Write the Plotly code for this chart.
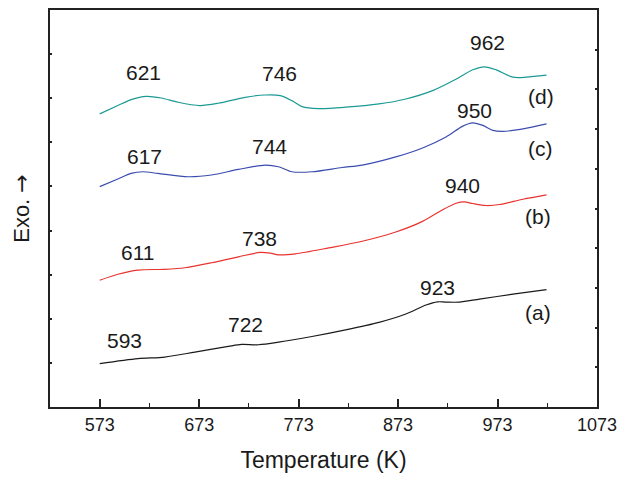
import plotly.graph_objects as go

# Temperature (K) and Exo. signal (arbitrary units, offset per curve)
T_a = [573, 611.4, 638.4, 668.7, 702.3, 715.7, 732.6, 752.8, 786.4, 820.2, 853.8, 880.8, 901, 912.7, 921.2, 934.6, 954.8, 988.5, 1022.2]
y_a = [0.983, 1.096, 1.132, 1.244, 1.373, 1.418, 1.411, 1.469, 1.598, 1.748, 1.919, 2.108, 2.311, 2.385, 2.378, 2.378, 2.446, 2.558, 2.662]

T_b = [573, 591.2, 611.4, 638.4, 658.6, 685.4, 712.4, 734.3, 744.4, 752.8, 769.7, 803.3, 837, 870.7, 897.6, 917.8, 931.3, 939.7, 948.1, 961.6, 975, 998.6, 1022.2]
y_b = [2.873, 3.009, 3.105, 3.121, 3.157, 3.270, 3.405, 3.504, 3.488, 3.450, 3.472, 3.607, 3.758, 3.967, 4.208, 4.471, 4.620, 4.651, 4.613, 4.568, 4.590, 4.710, 4.809]

T_c = [573, 591.2, 604.6, 616.4, 631.6, 661.9, 685.4, 712.4, 739.4, 752.8, 766.2, 786.4, 816.7, 837, 870.7, 897.6, 921.2, 938, 948.1, 958.2, 968.3, 978.4, 998.6, 1022.2]
y_c = [4.995, 5.169, 5.295, 5.333, 5.295, 5.220, 5.259, 5.385, 5.484, 5.446, 5.333, 5.333, 5.430, 5.484, 5.670, 5.873, 6.121, 6.368, 6.442, 6.384, 6.271, 6.249, 6.307, 6.420]

T_d = [573, 591.2, 604.6, 619.8, 634.9, 651.8, 673.7, 692.2, 719.2, 739.4, 754.5, 766.2, 776.4, 793.2, 820.2, 853.8, 880.8, 907.7, 931.3, 948.1, 959.9, 971.7, 988.5, 1002, 1022.2]
y_d = [6.645, 6.834, 6.969, 7.043, 7.005, 6.908, 6.834, 6.886, 7.021, 7.073, 7.059, 6.946, 6.811, 6.766, 6.796, 6.870, 6.983, 7.172, 7.432, 7.644, 7.712, 7.644, 7.477, 7.477, 7.522]

# Peak labels: text, x, y
peak_text = ["593", "722", "923", "611", "738", "940", "617", "744", "950", "621", "746", "962"]
peak_x = [598, 719.5, 912.5, 610.5, 733.5, 937.5, 618.5, 743.5, 950, 617.5, 753.5, 963]
peak_y = [1.51, 1.87, 2.72, 3.51, 3.83, 5.02, 5.67, 5.90, 6.73, 7.58, 7.56, 8.26]

curve_labels = ["(a)", "(b)", "(c)", "(d)"]
curve_label_x = [1013.5, 1013.5, 1016.5, 1016.5]
curve_label_y = [2.14, 4.32, 5.87, 7.04]

x_ticks = [573, 673, 773, 873, 973, 1073]

colors = ["#1a1a1a", "#e8332f", "#3a4cb0", "#1b9a94"]

fig = go.Figure()
for T, y, c in zip([T_a, T_b, T_c, T_d], [y_a, y_b, y_c, y_d], colors):
    fig.add_trace(go.Scatter(x=T, y=y, mode="lines", line=dict(color=c, width=1.2, shape="spline", smoothing=0.8),
                             showlegend=False, hoverinfo="skip"))

# invisible trace for right axis
fig.add_trace(go.Scatter(x=[573], y=[0], yaxis="y2", mode="markers", marker=dict(opacity=0), showlegend=False, hoverinfo="skip"))

font_family = "Liberation Sans, Arial, sans-serif"
txt = "#1a1a1a"
for t, x, y in zip(peak_text, peak_x, peak_y):
    fig.add_annotation(x=x, y=y, text=t, showarrow=False, font=dict(family=font_family, size=21, color=txt))
for t, x, y in zip(curve_labels, curve_label_x, curve_label_y):
    fig.add_annotation(x=x, y=y, text=t, showarrow=False, font=dict(family=font_family, size=21, color=txt))

fig.update_layout(
    width=625, height=478,
    margin=dict(l=50, r=27, t=8, b=71),
    paper_bgcolor="white", plot_bgcolor="white",
    font=dict(family=font_family, color=txt),
    xaxis=dict(range=[523, 1073], tickvals=x_ticks, ticktext=[str(v) for v in x_ticks],
               ticks="inside", ticklen=8, tickwidth=1.5, tickcolor="#222",
               minor=dict(tickvals=[623, 723, 823, 923, 1023], ticks="inside", ticklen=4, tickwidth=1.2, tickcolor="#222"),
               showline=True, linecolor="#222", linewidth=2, mirror=True,
               showgrid=False, zeroline=False,
               tickfont=dict(size=18, color=txt),
               title=dict(text="Temperature (K)", font=dict(size=23, color=txt), standoff=18)),
    yaxis=dict(range=[0, 9], tickvals=list(range(1, 9)), showticklabels=False,
               ticks="inside", ticklen=2, tickwidth=1.5, tickcolor="#222",
               showline=True, linecolor="#222", linewidth=2,
               showgrid=False, zeroline=False,
               title=dict(text="Exo. <span style=\"font-family:DejaVu Sans\">→</span>",
                          font=dict(size=22, color=txt), standoff=12)),
    yaxis2=dict(range=[0, 10], tickvals=list(range(1, 10)), showticklabels=False, overlaying="y", side="right",
                ticks="inside", ticklen=2, tickwidth=1.5, tickcolor="#222",
                showline=True, linecolor="#222", linewidth=2,
                showgrid=False, zeroline=False),
)

fig.write_html("out.html")
